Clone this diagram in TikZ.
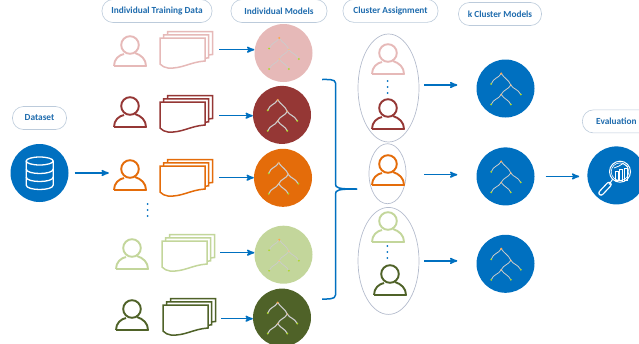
\documentclass[tikz,border=0pt]{standalone}
\usepackage{fontspec}
\setmainfont{Carlito}
\usepackage{xcolor}
\usetikzlibrary{calc,positioning,arrows,shapes,shapes.geometric}
\definecolor{lbblue}{HTML}{0070C0}
\definecolor{lbtext}{HTML}{1F6CAE}
\definecolor{lbpill}{HTML}{BCCBDB}
\definecolor{lboval}{HTML}{B4BCCD}
\definecolor{lbpale}{HTML}{E6B9B8}
\definecolor{lbred}{HTML}{953735}
\definecolor{lborange}{HTML}{E46C0A}
\definecolor{lblime}{HTML}{C3D69B}
\definecolor{lbolive}{HTML}{4F6228}
\def\sheetpath{(0,0) -- (45,0) -- (45,23) .. controls (30,24) and (22,31) .. (8,30) .. controls (5,30) and (2,28) .. (0,26) -- cycle}
\tikzset{
  pics/usericon/.style={code={
    \node[inner sep=0pt,minimum width=34pt,minimum height=32pt] (-box) at (0,6) {};
    \draw[#1,line width=1.9pt] (0,0) circle[radius=8.8];
    \draw[#1,line width=1.9pt,line join=round] (-16,21) .. controls (-16,14) and (-11,10) .. (-6,9)
      (5,8) .. controls (11,10) and (16,14) .. (16,21) -- (-16,21);
  }},
  pics/datastack/.style={code={
    \node[inner sep=0pt,minimum width=53pt,minimum height=36pt,anchor=north west] (-box) at (0,-6.5) {};
    \draw[#1,fill=white,line width=1.5pt,shift={(7.5,-6.5)}] \sheetpath;
    \draw[#1,fill=white,line width=1.5pt,shift={(3.7,-3.2)}] \sheetpath;
    \draw[#1,fill=white,line width=1.5pt] \sheetpath;
  }},
  pics/dtree/.style={code={
    \draw[lightgray!80] (-4.3,-15) .. controls (-7,-10) and (-12,-11) .. (-14.3,-4.5);
    \draw[lightgray!80] (-4.3,-15) .. controls (-1,-10) and (3,-9) .. (5.3,-3.5);
    \draw[lightgray!80] (5.3,-3.5) .. controls (8,1) and (12,0) .. (15.3,6);
    \draw[lightgray!80] (5.3,-3.5) .. controls (3,1) and (-2,1) .. (-4.3,6);
    \draw[lightgray!80] (-4.3,6) .. controls (-7,11) and (-12,10) .. (-14.3,16);
    \draw[lightgray!80] (-4.3,6) .. controls (-1,11) and (3,11) .. (5.3,16);
    \fill[orange!70] (-4.3,-15) circle[radius=1.1];
    \fill[orange!50] (5.3,-3.5) circle[radius=.8];
    \fill[orange!50] (-4.3,6) circle[radius=.8];
    \fill[lime!70!gray] (-14.3,-4.5) circle[radius=1];
    \fill[lime!70!gray] (15.3,6) circle[radius=1];
    \fill[lime!70!gray] (-14.3,16) circle[radius=1];
    \fill[lime!70!gray] (5.3,16) circle[radius=1];
  }},
  pics/threedots/.style={code={
    \fill[lbblue] (0,0) circle[radius=1];
    \fill[lbblue] (0,6) circle[radius=1];
    \fill[lbblue] (0,12) circle[radius=1];
  }},
}

\begin{document}
\begin{tikzpicture}[x=1pt,y=-1pt,
    lbl/.style={draw=lbpill,fill=white,line width=.6pt,rounded corners=11pt,inner sep=0pt,minimum height=23pt,
      text=lbtext,font=\bfseries\fontsize{9.3}{10}\selectfont},
    disc/.style={circle,draw=none,inner sep=0pt,minimum size=58pt},
    oval/.style={ellipse,draw=lboval,line width=.7pt,inner sep=0pt},
    flow/.style={->,>=stealth',line width=1.5pt,draw=lbblue},
    brace/.style={draw=lbblue,line width=1.5pt}]
%
   \useasboundingbox (0,0) rectangle (639,343);
   \clip (0,0) rectangle (639,343);
   % model circles
   \node[disc,fill=lbblue]               (DB) at (39.5,173) {};
   \node[disc,fill=lbpale]               (M1) at (283.5,53) {};
   \node[disc,fill=lbred]                (M2) [below=3.5pt of M1,xshift=-1.5pt] {};
   \node[disc,fill=lborange]             (M3) [below=4.5pt of M2,xshift=1pt] {};
   \node[disc,fill=lblime]               (M4) [below=18.5pt of M3,xshift=.5pt] {};
   \node[disc,fill=lbolive]              (M5) [below=4.5pt of M4,xshift=-1.5pt] {};
   \node[disc,fill=lbblue]               (K1) at (505.5,88.5) {};
   \node[disc,fill=lbblue]               (K2) [below=29.5pt of K1] {};
   \node[disc,fill=lbblue]               (K3) [below=29pt of K2] {};
   \node[disc,fill=lbblue]               (EV) [right=52.5pt of K2,yshift=1pt] {};
   % cluster ovals
   \node[oval,minimum width=61pt,minimum height=108pt] (E1) at (388.5,88) {};
   \node[oval,minimum width=37pt,minimum height=60pt]  (E2) [below=1pt of E1,xshift=-1pt] {};
   \node[oval,minimum width=61pt,minimum height=107pt] (E3) [below=3pt of E2,xshift=1pt] {};
   % labels
   \node[lbl,minimum width=110pt] (L1) at (157,11) {Individual Training Data};
   \node[lbl,minimum width=96pt]  (L2) [above=1pt of M1,xshift=-4.5pt] {Individual Models};
   \node[lbl,minimum width=95pt]  (L3) [above=11pt of E1,xshift=2pt] {Cluster Assignment};
   \node[lbl,minimum width=83pt]  (L4) [above=33.5pt of K1,xshift=-5.5pt] {k Cluster Models};
   \node[lbl,minimum width=68pt]  (L5) [above=13pt of EV] {Evaluation};
   \node[lbl,minimum width=54pt]  (L6) [above=14pt of DB] {Dataset};
   % users and data
   \pic (U1) at (130,45)  {usericon=lbpale};
   \pic (U2) at (130,106) {usericon=lbred};
   \pic (U3) at (130,169) {usericon=lborange};
   \pic (U4) at (132,248) {usericon=lblime};
   \pic (U5) at (132,309) {usericon=lbolive};
   \pic (D1) at (160,38)  {datastack=lbpale};
   \pic (D2) at (160,102) {datastack=lbred};
   \pic (D3) at (160,166) {datastack=lborange};
   \pic (D4) at (162,241) {datastack=lblime};
   \pic (D5) at (163,305) {datastack=lbolive};
   \pic (C1) at (388,53)  {usericon=lbpale};
   \pic (C2) at (388,108) {usericon=lbred};
   \pic (C3) at (388,164) {usericon=lborange};
   \pic (C4) at (388,221) {usericon=lblime};
   \pic (C5) at (390,274) {usericon=lbolive};
   \pic at (147.7,204) {threedots};
   \pic at (387.7,81)  {threedots};
   \pic at (387.3,246) {threedots};
   % trees
   \pic[line width=.7pt] at (M1) {dtree};
   \pic[line width=1.1pt]  at (M2) {dtree};
   \pic[line width=1.1pt]  at (M3) {dtree};
   \pic[line width=.7pt] at (M4) {dtree};
   \pic[line width=1.1pt]  at (M5) {dtree};
   \pic[line width=.8pt] at (K1) {dtree};
   \pic[line width=.8pt] at (K2) {dtree};
   \pic[line width=.8pt] at (K3) {dtree};
   % database icon
   \draw[white,line width=1.3pt] (39.7,161) ellipse[x radius=13.5,y radius=4];
   \draw[white,line width=1.3pt] (26.2,161) -- (26.2,185) .. controls (26.2,191) and (53.2,191) .. (53.2,185) -- (53.2,161);
   \draw[white,line width=1.3pt] (26.2,169) .. controls (26.2,175) and (53.2,175) .. (53.2,169);
   \draw[white,line width=1.3pt] (26.2,177) .. controls (26.2,183) and (53.2,183) .. (53.2,177);
   % evaluation icon
   \draw[white,line width=1pt] (620,171.7) circle[radius=10.5];
   \draw[white,line width=.6pt] (620,171.7) circle[radius=8.8];
   \draw[white,line width=5.6pt,line cap=round] (609,184.5) -- (601,193);
   \draw[lbblue,line width=3pt,line cap=round] (609,184.5) -- (601,193);
   \draw[white,line width=1pt] (612.5,179.5) -- (609,184.5);
   \draw[white,line width=.7pt] (615,171) rectangle (618,180);
   \draw[white,line width=.7pt] (619.5,169) rectangle (622.5,180);
   \draw[white,line width=.7pt] (624,168) rectangle (627,180);
   \draw[white,line width=.8pt] (614,168) -- (619,166) -- (623,163.5) -- (628,167);
   % arrows
   \path (DB.east) edge[flow,shorten <=6pt,shorten >=4pt] (DB.east -| U3-box.west);
   \path (D1-box.east) edge[flow,shorten <=6pt] (D1-box.east -| M1.west);
   \path ([yshift=-2pt]D2-box.east) edge[flow,shorten <=6pt] ([yshift=-2pt]D2-box.east -| M2.west);
   \path (D3-box.east) edge[flow,shorten <=6pt] (D3-box.east -| M3.west);
   \path (D4-box.east) edge[flow,shorten <=5pt] (D4-box.east -| M4.west);
   \path ([yshift=-2pt]D5-box.east) edge[flow,shorten <=5pt] ([yshift=-2pt]D5-box.east -| M5.west);
   \path ([yshift=3pt]E1.east) edge[flow,shorten <=5pt,shorten >=19pt] ([yshift=3pt]E1.east -| K1.west);
   \path ([yshift=-1pt]E2.east) edge[flow,shorten <=18pt,shorten >=19pt] ([yshift=-1pt]E2.east -| K2.west);
   \path (E3.east) edge[flow,shorten <=5pt,shorten >=19pt] (E3.east -| K3.west);
   \path (K2.east) edge[flow,shorten <=11pt,shorten >=8pt] (K2.east -| EV.west);
   % bracket
   \coordinate (BT) at (322,79.5);
   \coordinate (BB) at (322,299);
   \coordinate (BM) at (357,189);
   \draw[brace] (BT) .. controls (328,79.5) and (335.5,79) .. (335.5,83) -- (335.5,184) .. controls (335.5,188) and (338,189) .. (BM);
   \draw[brace] (BB) .. controls (328,299) and (335.5,299.5) .. (335.5,295) -- (335.5,194) .. controls (335.5,190) and (338,189) .. (BM);
\end{tikzpicture}
\end{document}
